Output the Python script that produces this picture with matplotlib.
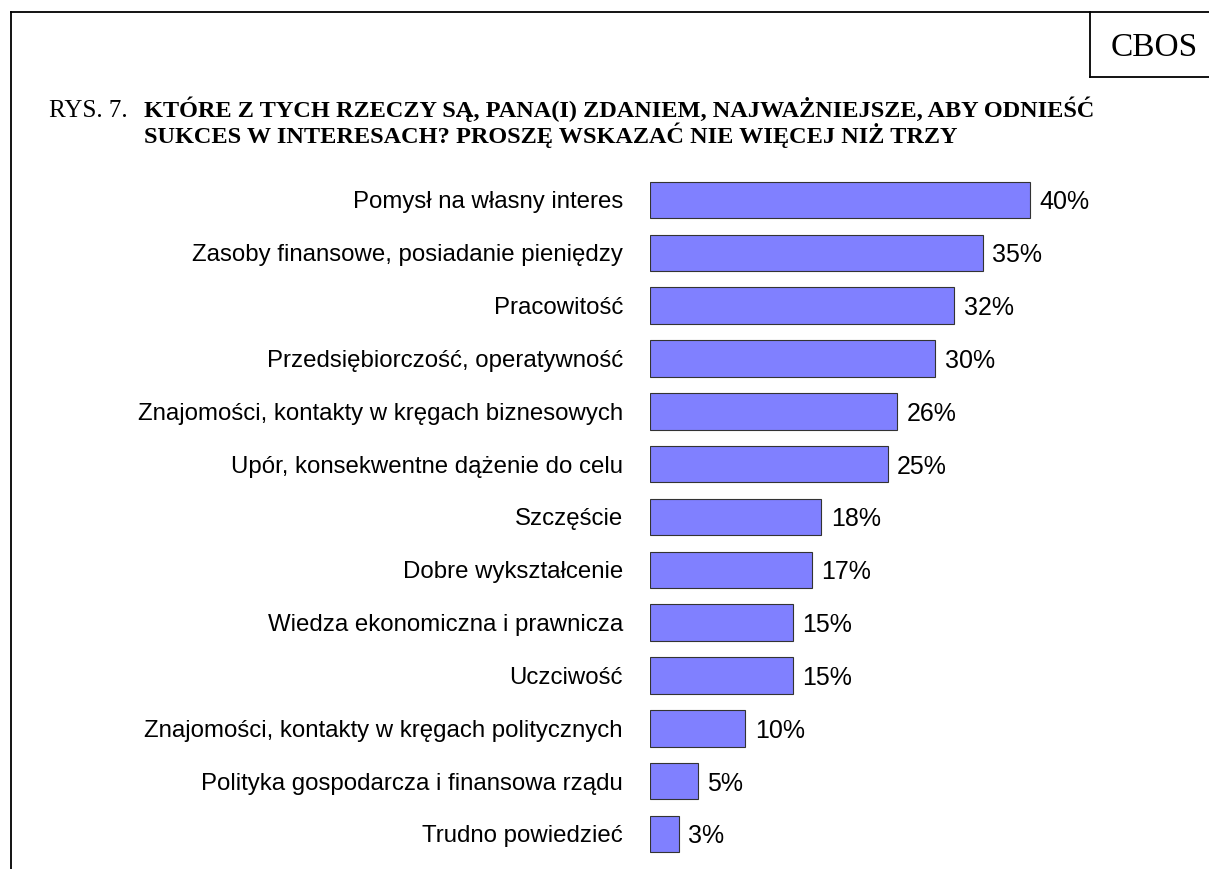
import matplotlib.pyplot as plt
from matplotlib.lines import Line2D

categories = [
    'Pomysł na własny interes',
    'Zasoby finansowe, posiadanie pieniędzy',
    'Pracowitość',
    'Przedsiębiorczość, operatywność',
    'Znajomości, kontakty w kręgach biznesowych',
    'Upór, konsekwentne dążenie do celu',
    'Szczęście',
    'Dobre wykształcenie',
    'Wiedza ekonomiczna i prawnicza',
    'Uczciwość',
    'Znajomości, kontakty w kręgach politycznych',
    'Polityka gospodarcza i finansowa rządu',
    'Trudno powiedzieć',
]
values = [40, 35, 32, 30, 26, 25, 18, 17, 15, 15, 10, 5, 3]

title_lines = [
    'KTÓRE Z TYCH RZECZY SĄ, PANA(I) ZDANIEM, NAJWAŻNIEJSZE, ABY ODNIEŚĆ',
    'SUKCES W INTERESACH? PROSZĘ WSKAZAĆ NIE WIĘCEJ NIŻ TRZY',
]

W, H = 1209, 869
fig = plt.figure(figsize=(W / 100, H / 100), dpi=100)


def fx(px):
    return px / W


def fy(py):
    return 1 - py / H


# frame around the figure (top + left) and the CBOS box
fig.add_artist(Line2D([fx(11), fx(1209)], [fy(12), fy(12)], color='black', lw=1.3))
fig.add_artist(Line2D([fx(11), fx(11)], [fy(12), fy(869)], color='black', lw=1.3))
fig.add_artist(Line2D([fx(1090), fx(1090)], [fy(12), fy(77)], color='black', lw=1.3))
fig.add_artist(Line2D([fx(1090), fx(1209)], [fy(77), fy(77)], color='black', lw=1.3))
fig.text(fx(1154), fy(44), 'CBOS', family='Liberation Serif', fontsize=24,
         ha='center', va='center_baseline')

fig.text(fx(49), fy(117), 'RYS. 7.', family='Liberation Serif', fontsize=18,
         ha='left', va='baseline')
for i, line in enumerate(title_lines):
    fig.text(fx(144), fy(117 + 26 * i), line, family='Liberation Serif',
             fontweight='bold', fontsize=17.5, ha='left', va='baseline')

# bar area
pitch = 52.83
top = 200 - pitch / 2
bottom = top + pitch * len(values)
ax = fig.add_axes([fx(650), fy(bottom), fx(1209) - fx(650), fy(top) - fy(bottom)])
ypos = list(range(len(values)))
ax.barh(ypos, values, height=0.69, color='#8080FF', edgecolor='#333333', linewidth=0.8)
ax.set_ylim(len(values) - 0.5, -0.5)
ax.set_xlim(0, (1209 - 650) / 9.5)
ax.set_yticks(ypos)
ax.set_yticklabels(categories, family='Liberation Sans', fontsize=17.25,
                   va='center_baseline')
ax.tick_params(axis='y', length=0, pad=19.5)
ax.set_xticks([])
for s in ax.spines.values():
    s.set_visible(False)
for y, v in zip(ypos, values):
    ax.annotate(f'{v}%', (v, y), xytext=(7, 0), textcoords='offset points',
                ha='left', va='center_baseline', family='Liberation Sans', fontsize=18)

fig.savefig('out.png', dpi=100)
